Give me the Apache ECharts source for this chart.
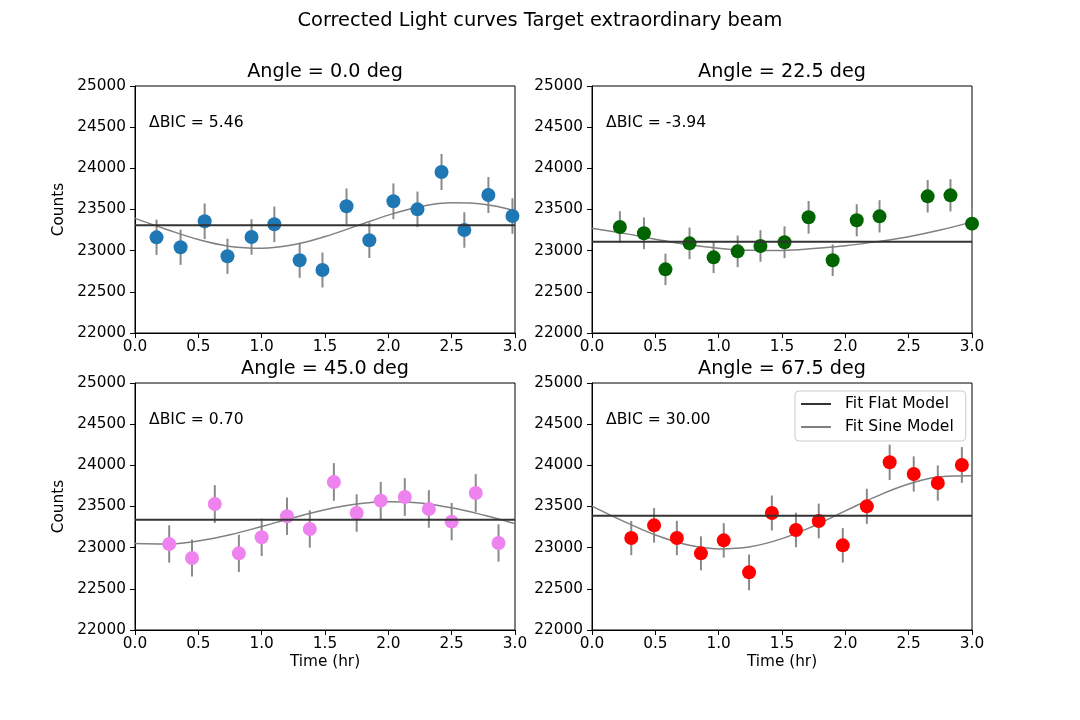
<!DOCTYPE html>
<html>
<head>
<meta charset="utf-8">
<script src="https://cdn.jsdelivr.net/npm/echarts@6/dist/echarts.min.js"></script>
<style>html,body{margin:0;padding:0;background:#fff}#c{width:1080px;height:720px}</style>
</head>
<body>
<div id="c"></div>
<script>
// ---------- data ----------
const panelTitles = ['Angle = 0.0 deg', 'Angle = 22.5 deg', 'Angle = 45.0 deg', 'Angle = 67.5 deg'];
const deltaBIC = ['ΔBIC = 5.46', 'ΔBIC = -3.94', 'ΔBIC = 0.70', 'ΔBIC = 30.00'];
const pointColors = ['#1f77b4', '#006400', '#ee82ee', '#ff0000'];
const xTicks = [0, 0.5, 1.0, 1.5, 2.0, 2.5, 3.0];
const yTicks = [22000, 22500, 23000, 23500, 24000, 24500, 25000];

const time0 = [0.17, 0.36, 0.55, 0.73, 0.92, 1.10, 1.30, 1.48, 1.67, 1.85, 2.04, 2.23, 2.42, 2.60, 2.79, 2.98];
const counts0 = [23162, 23041, 23357, 22932, 23166, 23320, 22883, 22765, 23539, 23126, 23600, 23502, 23956, 23251, 23676, 23421];
const err0 = [215, 214, 216, 213, 215, 216, 213, 212, 217, 215, 217, 216, 219, 215, 218, 216];

const time1 = [0.22, 0.41, 0.58, 0.77, 0.96, 1.15, 1.33, 1.52, 1.71, 1.90, 2.09, 2.27, 2.65, 2.83, 3.00];
const counts1 = [23288, 23211, 22773, 23089, 22919, 22992, 23057, 23102, 23405, 22883, 23369, 23417, 23660, 23672, 23328];
const err1 = [192, 193, 190, 192, 191, 192, 192, 193, 198, 191, 195, 196, 197, 196, 194];

const time2 = [0.27, 0.45, 0.63, 0.82, 1.00, 1.20, 1.38, 1.57, 1.75, 1.94, 2.13, 2.32, 2.50, 2.69, 2.87];
const counts2 = [23045, 22875, 23530, 22931, 23126, 23381, 23227, 23798, 23421, 23571, 23615, 23470, 23316, 23664, 23057];
const err2 = [227, 225, 229, 226, 227, 228, 227, 229, 228, 228, 229, 228, 227, 229, 227];

const time3 = [0.31, 0.49, 0.67, 0.86, 1.04, 1.24, 1.42, 1.61, 1.79, 1.98, 2.17, 2.35, 2.54, 2.73, 2.92];
const counts3 = [23117, 23271, 23117, 22931, 23089, 22700, 23421, 23215, 23324, 23028, 23502, 24037, 23895, 23785, 24004];
const err3 = [208, 210, 209, 207, 209, 217, 212, 210, 211, 209, 213, 215, 214, 214, 217];

const flatLevels = [23308, 23109, 23340, 23389];

const sineT = [0, 0.25, 0.5, 0.75, 1.0, 1.25, 1.5, 1.75, 2.0, 2.25, 2.5, 2.75, 3.0];
const sine0 = [23392, 23258, 23135, 23052, 23030, 23072, 23171, 23301, 23432, 23533, 23581, 23564, 23486];
const sine1 = [23271, 23210, 23140, 23075, 23030, 23005, 23003, 23025, 23060, 23110, 23170, 23250, 23350];
const sine2 = [23050, 23044, 23082, 23157, 23257, 23364, 23460, 23529, 23558, 23543, 23484, 23396, 23291];
const sine3 = [23505, 23320, 23154, 23035, 22985, 23011, 23110, 23263, 23446, 23626, 23773, 23861, 23874];

// ---------- chart ----------
const FONT = 'DejaVu Sans';
const times = [time0, time1, time2, time3];
const counts = [counts0, counts1, counts2, counts3];
const errs = [err0, err1, err2, err3];
const sines = [sine0, sine1, sine2, sine3];

const gridBoxes = [
  {left: 135, top: 86}, {left: 592, top: 86},
  {left: 135, top: 383}, {left: 592, top: 383}
];
const W = 380, H = 247;

const grids = gridBoxes.map(g => ({
  left: g.left, top: g.top, width: W, height: H,
  show: true, borderColor: '#000', borderWidth: 1, backgroundColor: 'transparent'
}));

const xAxes = gridBoxes.map((g, i) => ({
  type: 'value', gridIndex: i, min: xTicks[0], max: xTicks[xTicks.length - 1], interval: 0.5,
  name: i >= 2 ? 'Time (hr)' : '', nameLocation: 'middle', nameGap: 25,
  nameTextStyle: {fontFamily: FONT, fontSize: 15.3, color: '#000'},
  axisLine: {show: true, onZero: false, lineStyle: {color: '#000', width: 1}},
  axisTick: {show: true, length: 5, lineStyle: {color: '#000'}},
  axisLabel: {fontFamily: FONT, fontSize: 15.3, color: '#000', margin: 7, formatter: v => v.toFixed(1)},
  splitLine: {show: false}
}));

const yAxes = gridBoxes.map((g, i) => ({
  type: 'value', gridIndex: i, min: yTicks[0], max: yTicks[yTicks.length - 1], interval: 500,
  name: (i % 2 === 0) ? 'Counts' : '', nameLocation: 'middle', nameGap: 68,
  nameTextStyle: {fontFamily: FONT, fontSize: 15.3, color: '#000'},
  axisLine: {show: true, onZero: false, lineStyle: {color: '#000', width: 1}},
  axisTick: {show: true, length: 5, lineStyle: {color: '#000'}},
  axisLabel: {fontFamily: FONT, fontSize: 15.3, color: '#000', margin: 9, formatter: v => String(Math.round(v))},
  splitLine: {show: false}
}));

const series = [];
for (let i = 0; i < 4; i++) {
  const errData = times[i].map((t, k) => [t, counts[i][k] - errs[i][k], counts[i][k] + errs[i][k]]);
  series.push({
    type: 'custom', xAxisIndex: i, yAxisIndex: i, z: 1, silent: true,
    data: errData,
    encode: {x: 0, y: [1, 2]},
    renderItem: function (params, api) {
      const x = api.value(0);
      const p1 = api.coord([x, api.value(1)]);
      const p2 = api.coord([x, api.value(2)]);
      return {type: 'line', shape: {x1: p1[0], y1: p1[1], x2: p2[0], y2: p2[1]},
              style: {stroke: '#8a8a8a', lineWidth: 2}};
    }
  });
  series.push({
    type: 'scatter', xAxisIndex: i, yAxisIndex: i, z: 3,
    symbol: 'circle', symbolSize: 14,
    itemStyle: {color: pointColors[i], opacity: 1},
    data: times[i].map((t, k) => [t, counts[i][k]])
  });
  series.push({
    name: 'Fit Flat Model', type: 'line', xAxisIndex: i, yAxisIndex: i, z: 4,
    symbol: 'none', showSymbol: false,
    lineStyle: {color: '#333333', width: 2},
    itemStyle: {color: '#333333'},
    data: [[xTicks[0], flatLevels[i]], [xTicks[xTicks.length - 1], flatLevels[i]]]
  });
  series.push({
    name: 'Fit Sine Model', type: 'line', xAxisIndex: i, yAxisIndex: i, z: 2,
    symbol: 'none', showSymbol: false, smooth: 0.4,
    lineStyle: {color: '#808080', width: 1.5},
    itemStyle: {color: '#808080'},
    data: sineT.map((t, k) => [t, sines[i][k]])
  });
}

const titles = [{
  text: 'Corrected Light curves Target extraordinary beam',
  left: 540, top: 11, textAlign: 'center', padding: 0,
  textStyle: {fontFamily: FONT, fontSize: 19.4, fontWeight: 'normal', color: '#000'}
}];
gridBoxes.forEach((g, i) => {
  titles.push({
    text: panelTitles[i], left: g.left + W / 2, top: g.top - 23, textAlign: 'center', padding: 0,
    textStyle: {fontFamily: FONT, fontSize: 19.2, fontWeight: 'normal', color: '#000'}
  });
  titles.push({
    text: deltaBIC[i], left: g.left + 14, top: g.top + 29, padding: 0,
    textStyle: {fontFamily: FONT, fontSize: 15.6, fontWeight: 'normal', color: '#000'}
  });
});

const option = {
  animation: false,
  backgroundColor: '#fff',
  title: titles,
  grid: grids,
  xAxis: xAxes,
  yAxis: yAxes,
  legend: {
    data: [
      {name: 'Fit Flat Model', icon: 'rect', itemStyle: {color: '#333333'}},
      {name: 'Fit Sine Model', icon: 'rect', itemStyle: {color: '#808080'}}
    ],
    orient: 'vertical', left: 795, top: 391,
    padding: [4, 12, 5, 6], itemGap: 5, itemWidth: 30, itemHeight: 2,
    borderColor: '#cccccc', borderWidth: 1, borderRadius: 4,
    backgroundColor: 'rgba(255,255,255,0.8)',
    selectedMode: false,
    textStyle: {fontFamily: FONT, fontSize: 15.6, color: '#000', lineHeight: 18, padding: [0, 0, 0, 9]}
  },
  series: series
};

const chart = echarts.init(document.getElementById('c'), null, {renderer: 'canvas'});
chart.setOption(option);
</script>
</body>
</html>
